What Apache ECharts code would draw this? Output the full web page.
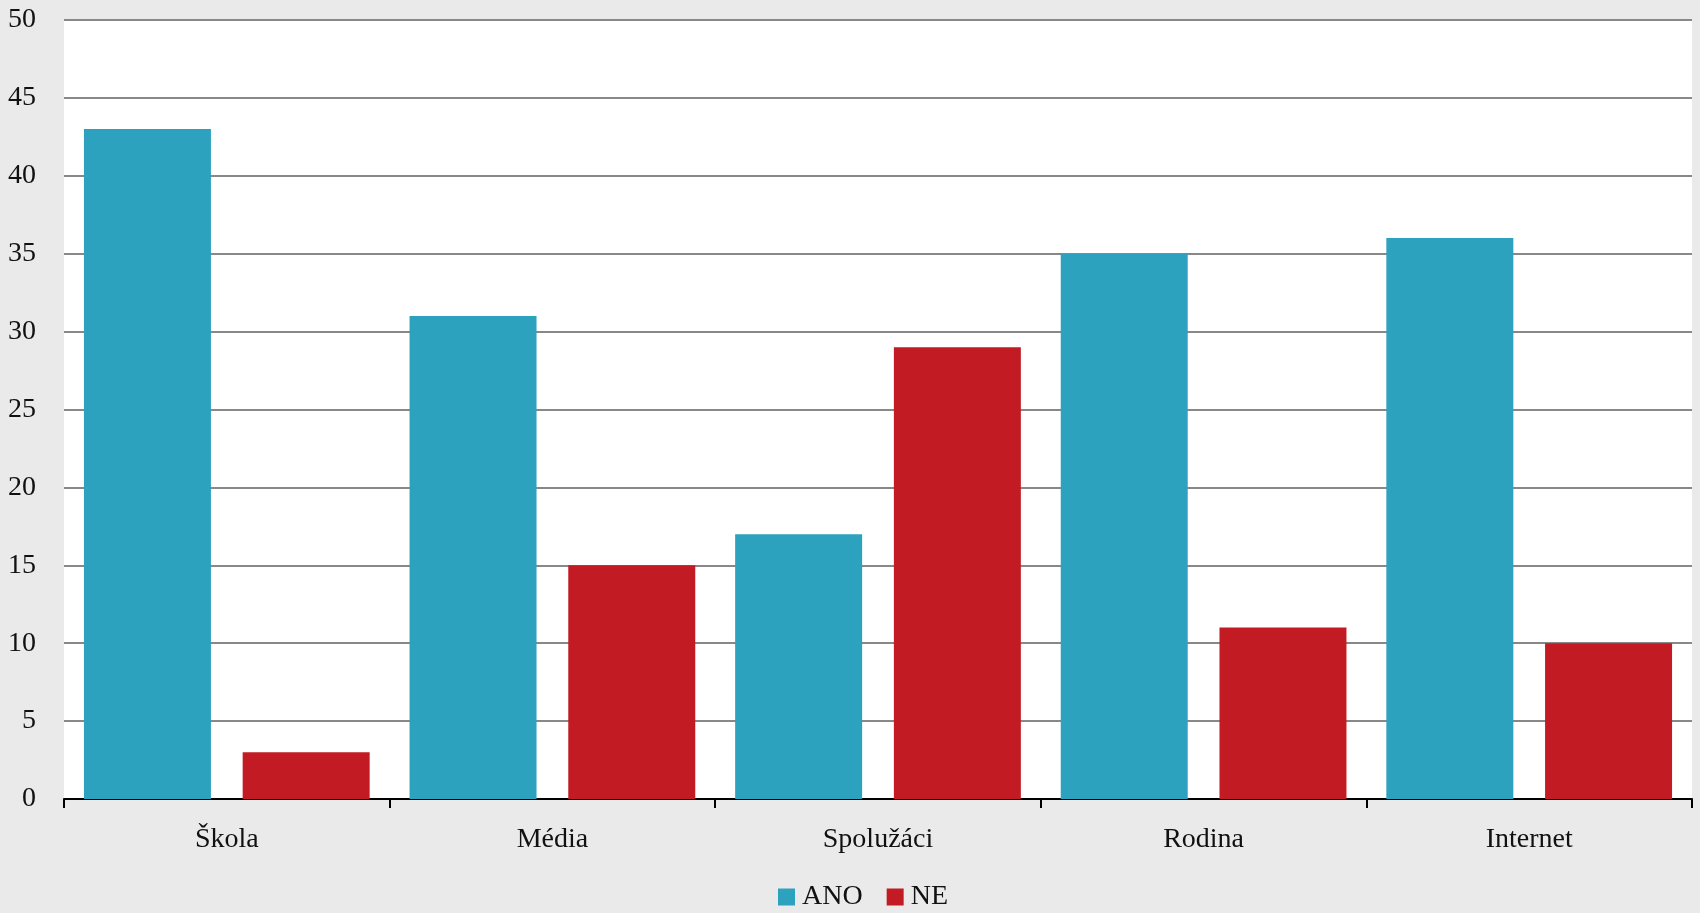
<!DOCTYPE html>
<html><head><meta charset="utf-8">
<script src="https://cdn.jsdelivr.net/npm/echarts@6/dist/echarts.min.js"></script>
<style>html,body{margin:0;padding:0;background:#eaeaea}#c{width:1700px;height:913px}</style>
</head><body><div id="c"></div>
<script>
const categories = ['Škola', 'Média', 'Spolužáci', 'Rodina', 'Internet'];
const anoValues = [43, 31, 17, 35, 36];
const neValues = [3, 15, 29, 11, 10];
const seriesNames = ['ANO', 'NE'];

const font = "'Liberation Serif', 'DejaVu Serif', serif";
const chart = echarts.init(document.getElementById('c'));
chart.setOption({
  backgroundColor: '#eaeaea',
  animation: false,
  textStyle: { fontFamily: font },
  legend: {
    bottom: 2, left: 778, padding: 0,
    itemWidth: 17, itemHeight: 17, itemGap: 24,
    icon: 'rect',
    textStyle: { fontFamily: font, fontSize: 28, color: '#111', padding: [0, 0, 0, 2] },
    data: seriesNames
  },
  grid: { left: 64, right: 8, top: 20, bottom: 114, show: true, backgroundColor: '#fff', borderWidth: 0 },
  xAxis: {
    type: 'category', data: categories,
    axisLine: { lineStyle: { color: '#000', width: 2 } },
    axisTick: { show: true, length: 9, lineStyle: { color: '#000', width: 2 } },
    axisLabel: { fontFamily: font, fontSize: 28, color: '#111', margin: 27 }
  },
  yAxis: {
    type: 'value', min: 0, max: 50, interval: 5,
    axisLine: { show: false }, axisTick: { show: false },
    splitLine: { lineStyle: { color: '#888', width: 2 } },
    axisLabel: { fontFamily: font, fontSize: 28, color: '#111', margin: 28 }
  },
  series: [
    { name: seriesNames[0], type: 'bar', data: anoValues, barWidth: '39%', barGap: '25%', itemStyle: { color: '#2ca2bf' } },
    { name: seriesNames[1], type: 'bar', data: neValues, barWidth: '39%', barGap: '25%', itemStyle: { color: '#c21b24' } }
  ]
});
</script></body></html>
